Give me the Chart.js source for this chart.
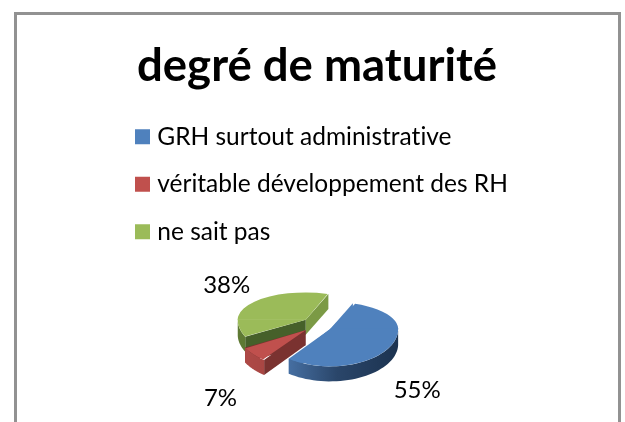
<!DOCTYPE html>
<html>
<head>
<meta charset="utf-8">
<script src="https://cdn.jsdelivr.net/npm/chart.js@4/dist/chart.umd.js"></script>
<style>
  html, body { margin: 0; padding: 0; background: #fff; overflow: hidden; }
  #page { position: relative; width: 625px; height: 422px; }
  #frame { position: absolute; left: 14px; top: 12px; width: 607px; height: 430px; border: 3px solid #929292; box-sizing: border-box; }
  #box { position: absolute; left: 117px; top: 0; width: 400px; height: 422px; }
</style>
</head>
<body>
<div id="page">
  <div id="frame"></div>
  <div id="box"><canvas id="maturityChart"></canvas></div>
</div>
<script>
const chartTitle = 'degré de maturité';
const categories = ['GRH surtout administrative', 'véritable développement des RH', 'ne sait pas'];
const shares = [55, 7, 38];
const sliceColors = ['#4f81bd', '#c0504d', '#9bbb59'];
const explode = [60, 60, 60];

const PIE_RADIUS = 68;
const TILT_FAR = 0.40;   // back half of the pie looks flatter than the front
const TILT_NEAR = 0.55;
const DEPTH = 15;
const FONT = 'Lato, Carlito, sans-serif';

// side faces per slice: outer wall gradient stops, then the two cut faces
const walls = [
  { outer: ['#5585c0', '#2a466a', '#1c3350'], start: '#4f81bd', end: '#4f81bd' },
  { outer: ['#b04a47', '#9a3f3c', '#7a3230'], start: '#7a3230', end: '#7a3230' },
  { outer: ['#5f7a34', '#4f6a2c', '#46602a'], start: '#46602a', end: '#7b9a45' }
];
// where each percent label sits, relative to the tip of its slice
const labelShift = [[87, 61], [-85, 68], [-79, -34]];

// the arc element moves by a quarter of its offset, and grows depending on its sweep
function sliceGeometry(arc, i) {
  const mid = (arc.startAngle + arc.endAngle) / 2;
  const move = explode[i] / 4;
  const tipU = arc.x + Math.cos(mid) * move;
  const tipV = arc.y + Math.sin(mid) * move;
  const fix = 1 - Math.sin(Math.min(Math.PI, arc.circumference));
  return {
    tipU,
    tipV,
    grow: move * fix,
    tipY: arc.y + (tipV - arc.y) * TILT_NEAR
  };
}

function toScreen(g, u, v) {
  const dv = v - g.tipV;
  return { x: u, y: g.tipY + dv * (dv < 0 ? TILT_FAR : TILT_NEAR) };
}

function drawWall(ctx, g, angle, color) {
  const a = toScreen(g, g.tipU, g.tipV);
  const b = toScreen(g, g.tipU + Math.cos(angle) * PIE_RADIUS, g.tipV + Math.sin(angle) * PIE_RADIUS);
  ctx.fillStyle = color;
  ctx.beginPath();
  ctx.moveTo(a.x, a.y);
  ctx.lineTo(b.x, b.y);
  ctx.lineTo(b.x, b.y + DEPTH);
  ctx.lineTo(a.x, a.y + DEPTH);
  ctx.closePath();
  ctx.fill();
}

function drawOuter(ctx, g, arc, stops) {
  const grad = ctx.createLinearGradient(g.tipU - PIE_RADIUS, 0, g.tipU + PIE_RADIUS, 0);
  grad.addColorStop(0, stops[0]);
  grad.addColorStop(0.55, stops[1]);
  grad.addColorStop(1, stops[2]);
  const pts = [];
  for (let s = 0; s <= 60; s++) {
    const a = arc.startAngle + (arc.endAngle - arc.startAngle) * s / 60;
    // only the front of the rim can be seen
    if (Math.sin(a) >= 0) {
      pts.push(toScreen(g, g.tipU + Math.cos(a) * PIE_RADIUS, g.tipV + Math.sin(a) * PIE_RADIUS));
    }
  }
  ctx.fillStyle = grad;
  ctx.beginPath();
  pts.forEach((p, k) => k ? ctx.lineTo(p.x, p.y) : ctx.moveTo(p.x, p.y));
  pts.slice().reverse().forEach(p => ctx.lineTo(p.x, p.y + DEPTH));
  ctx.closePath();
  ctx.fill();
}

function drawTop(ctx, chart, arc, g, tilt, top, height) {
  ctx.save();
  ctx.beginPath();
  ctx.rect(0, top, chart.width, height);
  ctx.clip();
  ctx.translate(0, g.tipY);
  ctx.scale(1, tilt);
  ctx.translate(0, -g.tipV);
  arc.draw(ctx);
  ctx.restore();
}

// tilts the pie and gives it depth, the arcs themselves come from the pie controller
const tiltedPie = {
  id: 'tiltedPie',
  beforeDraw(chart) {
    chart.ctx.textRendering = 'optimizeSpeed'; // no "ti" ligature
  },
  beforeDatasetsDraw(chart) {
    const ctx = chart.ctx;
    const arcs = chart.getDatasetMeta(0).data;
    // back to front: green, blue, red
    [2, 0, 1].forEach(i => {
      const arc = arcs[i];
      const g = sliceGeometry(arc, i);
      arc.outerRadius = PIE_RADIUS - g.grow; // same visible radius for every slice
      drawWall(ctx, g, arc.endAngle, walls[i].end);
      drawWall(ctx, g, arc.startAngle, walls[i].start);
      drawOuter(ctx, g, arc, walls[i].outer);
      drawTop(ctx, chart, arc, g, TILT_FAR, 0, g.tipY);
      drawTop(ctx, chart, arc, g, TILT_NEAR, g.tipY - 0.5, chart.height);
    });
    return false;
  },
  // afterDatasetsDraw does not fire once the default drawing is cancelled above
  afterDraw(chart) {
    const ctx = chart.ctx;
    const arcs = chart.getDatasetMeta(0).data;
    ctx.save();
    ctx.font = '24px ' + FONT;
    ctx.fillStyle = '#000';
    ctx.textAlign = 'center';
    ctx.textBaseline = 'middle';
    arcs.forEach((arc, i) => {
      const g = sliceGeometry(arc, i);
      ctx.fillText(shares[i] + '%', g.tipU + labelShift[i][0], g.tipY + labelShift[i][1]);
    });
    ctx.restore();
  }
};

new Chart(document.getElementById('maturityChart'), {
  type: 'pie',
  plugins: [tiltedPie],
  data: {
    labels: categories,
    datasets: [{
      data: shares,
      backgroundColor: sliceColors,
      borderWidth: 0,
      offset: explode
    }]
  },
  options: {
    responsive: true,
    maintainAspectRatio: false,
    animation: false,
    rotation: 19.5,
    radius: PIE_RADIUS,
    layout: { padding: { top: 39, bottom: 26 } },
    plugins: {
      tooltip: { enabled: false },
      title: {
        display: true,
        text: chartTitle,
        color: '#000',
        font: { family: FONT, size: 45.5, weight: 'bold' },
        padding: { top: 0, bottom: 8 }
      },
      legend: {
        position: 'top',
        align: 'start',
        labels: {
          color: '#000',
          font: { family: FONT, size: 24.5 },
          // thin box with a thick stroke, keeps the text close to the 15px square
          boxWidth: 5,
          boxHeight: 5,
          padding: 23,
          generateLabels(chart) {
            return Chart.overrides.pie.plugins.legend.labels.generateLabels(chart).map(item => {
              item.lineWidth = 10;
              item.strokeStyle = item.fillStyle;
              return item;
            });
          }
        }
      }
    }
  }
});
</script>
</body>
</html>
